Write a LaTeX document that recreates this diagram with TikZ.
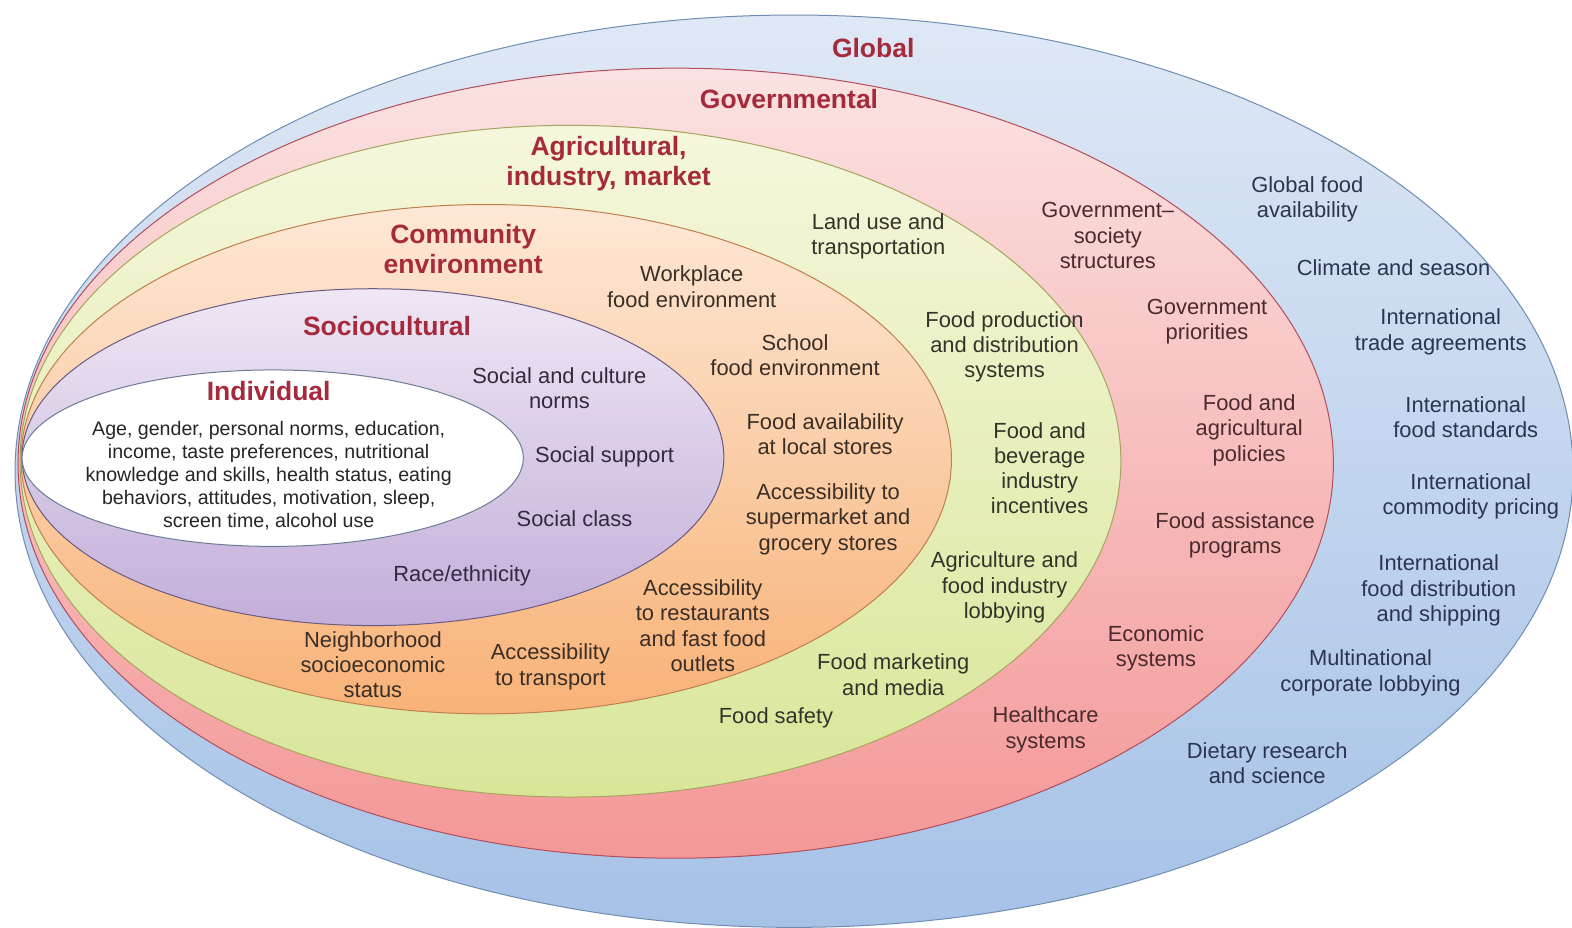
\documentclass[tikz,border=0pt]{standalone}
\usepackage{fontspec}
\setmainfont{Liberation Sans}
\begin{document}
\begin{tikzpicture}[x=1.0026pt,y=-1.0026pt,
  title/.style={font=\fontsize{26.5}{30}\selectfont\bfseries, text=titlered, align=center, inner sep=0pt},
  item/.style={font=\fontsize{21.9}{25.3}\selectfont, align=center, inner sep=0pt},
  small/.style={font=\fontsize{19.6}{23}\selectfont, align=center, inner sep=0pt},
  ring/.style={line width=1pt}]
\definecolor{titlered}{HTML}{A52A3C}
\definecolor{bluetop}{HTML}{DFE8F5}\definecolor{bluebot}{HTML}{A6C2E7}\definecolor{blueline}{HTML}{6F8DB2}
\definecolor{pinktop}{HTML}{FBE2E2}\definecolor{pinkbot}{HTML}{F49797}\definecolor{pinkline}{HTML}{B24E5C}
\definecolor{yeltop}{HTML}{F5F7DC}\definecolor{yelbot}{HTML}{D9E699}\definecolor{yelline}{HTML}{A6A45E}
\definecolor{orgtop}{HTML}{FDE8D6}\definecolor{orgbot}{HTML}{F8B277}\definecolor{orgline}{HTML}{BF7F4E}
\definecolor{purtop}{HTML}{EFE7F4}\definecolor{purbot}{HTML}{C2AED9}\definecolor{purline}{HTML}{6A5A82}
\definecolor{whiteline}{HTML}{6C7C94}
\definecolor{txtblue}{HTML}{2C3450}\definecolor{txtred}{HTML}{4A2A2E}
\definecolor{txtyel}{HTML}{33332A}\definecolor{txtorg}{HTML}{3A2E26}
\definecolor{txtpur}{HTML}{302A40}
\useasboundingbox (0,0) rectangle (1568,925);
\fill[white] (0,0) rectangle (1568,925);
% rings
\shade[top color=bluetop, bottom color=bluebot] (792,470) ellipse [x radius=777, y radius=455];
\draw[ring, blueline] (792,470) ellipse [x radius=777, y radius=455];
\shade[top color=pinktop, bottom color=pinkbot] (674,462) ellipse [x radius=656, y radius=394];
\draw[ring, pinkline] (674,462) ellipse [x radius=656, y radius=394];
\shade[top color=yeltop, bottom color=yelbot] (569,460) ellipse [x radius=549, y radius=335];
\draw[ring, yelline] (569,460) ellipse [x radius=549, y radius=335];
\shade[top color=orgtop, bottom color=orgbot] (485,458) ellipse [x radius=464, y radius=254];
\draw[ring, orgline] (485,458) ellipse [x radius=464, y radius=254];
\shade[top color=purtop, bottom color=purbot] (372,456) ellipse [x radius=350, y radius=168];
\draw[ring, purline] (372,456) ellipse [x radius=350, y radius=168];
\fill[white] (272,457) ellipse [x radius=250, y radius=88];
\draw[ring, whiteline] (272,457) ellipse [x radius=250, y radius=88];
% titles
\node[title] (tglobal) at (871,48) {Global};
\node[title] (tgov) at (787,99) {Governmental};
\node[title] (tagr) at (607,163) {Agricultural,\\industry, market};
\node[title] (tcom) at (462,248) {Community\\environment};
\node[title] (tsoc) at (386,325) {Sociocultural};
\node[title] (tind) at (268,390) {Individual};
% individual
\node[small, text=black!85] (ind) at (268,474) {Age, gender, personal norms, education,\\income, taste preferences, nutritional\\knowledge and skills, health status, eating\\behaviors, attitudes, motivation, sleep,\\screen time, alcohol use};
% sociocultural
\begin{scope}[every node/.append style={item, text=txtpur}]
\node (s1) at (558,387) {Social and culture\\norms};
\node (s2) at (603,456) {Social support};
\node (s3) at (573,517) {Social class};
\node (s4) at (461,574) {Race/ethnicity};
\end{scope}
% community
\begin{scope}[every node/.append style={item, text=txtorg}]
\node (c1) at (690,286) {Workplace\\food environment};
\node (c2) at (793,354) {School\\food environment};
\node (c3) at (823,433) {Food availability\\at local stores};
\node (c4) at (826,518) {Accessibility to\\supermarket and\\grocery stores};
\node (c5) at (701,624) {Accessibility\\to restaurants\\and fast food\\outlets};
\node (c6) at (549,665) {Accessibility\\to transport};
\node (c7) at (372,663) {Neighborhood\\socioeconomic\\status};
\end{scope}
% agricultural
\begin{scope}[every node/.append style={item, text=txtyel}]
\node (a1) at (876,236) {Land use and\\transportation};
\node (a2) at (1002,346) {Food production\\and distribution\\systems};
\node (a3) at (1037,467) {Food and\\beverage\\industry\\incentives};
\node (a4) at (1002,586) {Agriculture and\\food industry\\lobbying};
\node (a5) at (891,673) {Food marketing\\and media};
\node (a6) at (774,716) {Food safety};
\end{scope}
% governmental
\begin{scope}[every node/.append style={item, text=txtred}]
\node (g1) at (1105,235) {Government--\\society\\structures};
\node (g2) at (1204,321) {Government\\priorities};
\node (g3) at (1246,429) {Food and\\agricultural\\policies};
\node (g4) at (1232,534) {Food assistance\\programs};
\node (g5) at (1153,647) {Economic\\systems};
\node (g6) at (1043,728) {Healthcare\\systems};
\end{scope}
% global
\begin{scope}[every node/.append style={item, text=txtblue}]
\node (o1) at (1304,199) {Global food\\availability};
\node (o2) at (1390,267) {Climate and season};
\node (o3) at (1437,331) {International\\trade agreements};
\node (o4) at (1462,416) {International\\food standards};
\node (o5) at (1467,495) {International\\commodity pricing};
\node (o6) at (1435,589) {International\\food distribution\\and shipping};
\node (o7) at (1367,671) {Multinational\\corporate lobbying};
\node (o8) at (1264,761) {Dietary research\\and science};
\end{scope}
\end{tikzpicture}
\end{document}
